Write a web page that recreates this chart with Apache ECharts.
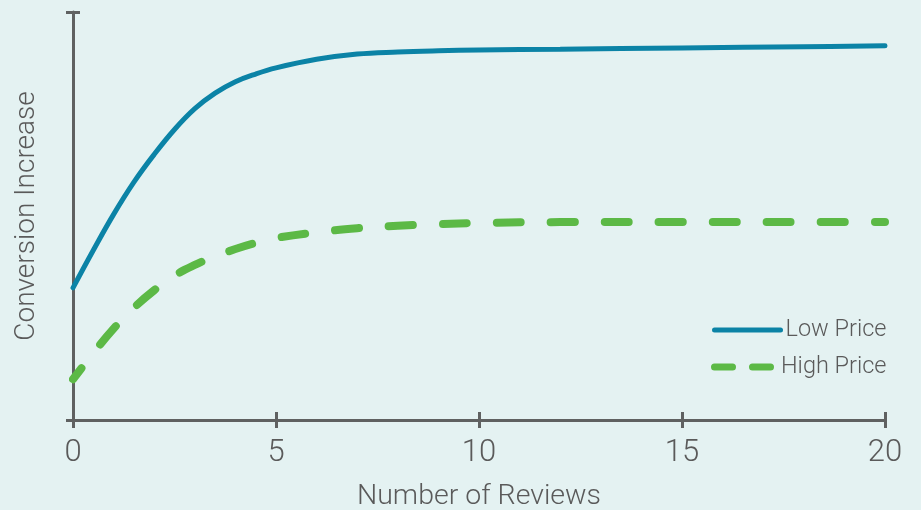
<!DOCTYPE html>
<html>
<head>
<meta charset="utf-8">
<script src="https://cdn.jsdelivr.net/npm/echarts@6/dist/echarts.min.js"></script>
<style>
html,body{margin:0;padding:0;background:#e4f2f2;overflow:hidden;}
#c{width:921px;height:510px;}
</style>
</head>
<body>
<div id="c"></div>
<script>
// Data (x = number of reviews, y = relative conversion increase)
const reviews     = [0, 0.5, 1, 1.5, 2, 2.5, 3, 3.5, 4, 4.5, 5, 6, 7, 8, 9, 10, 12, 15, 18, 20];
const lowPrice    = [32.4, 41.6, 50.4, 58.3, 65.1, 71.2, 76.3, 80.1, 82.9, 84.8, 86.3, 88.4, 89.7, 90.2, 90.5, 90.7, 90.9, 91.2, 91.5, 91.7];
const highPrice   = [10.0, 16.4, 22.4, 27.5, 31.8, 35.4, 38.0, 40.1, 41.9, 43.4, 44.6, 46.0, 47.0, 47.6, 48.0, 48.3, 48.5, 48.5, 48.5, 48.5];
const xTicks      = [0, 5, 10, 15, 20];
const seriesNames = ['Low Price', 'High Price'];

const axisColor = '#5f6161';
const textColor = '#5a5a5a';
const blue = '#0b83a6';
const green = '#5cb946';
const font = 'Roboto, "Noto Sans", sans-serif';

function pairs(xs, ys){ return xs.map((x,i)=>[x, ys[i]]); }

const chart = echarts.init(document.getElementById('c'), null, {renderer:'canvas', width:921, height:510});
const baseX = {
  type:'value', min:xTicks[0], max:xTicks[xTicks.length-1], interval:xTicks[1]-xTicks[0],
  position:'bottom', splitLine:{show:false}
};
const baseY = {type:'value', min:0, max:100, interval:100, position:'left', splitLine:{show:false}};
chart.setOption({
  backgroundColor:'#e4f2f2',
  animation:false,
  grid:{left:73, top:12, width:812, height:408, containLabel:false, outerBoundsMode:'none'},
  legend:{
    orient:'vertical', left:711, top:318, padding:0,
    itemWidth:66, itemHeight:20, itemGap:13,
    formatter: function(name){ return '{t|' + name + '}'; },
    textStyle:{
      fontFamily:font, fontSize:23.5, fontWeight:300, color:textColor,
      rich:{t:{fontFamily:font, fontSize:23.5, fontWeight:300, color:textColor, width:101, align:'right', lineHeight:20}}
    },
    data:[
      {name:seriesNames[0], itemStyle:{opacity:0}, lineStyle:{color:blue, width:5, cap:'round', dashOffset:0}},
      {name:seriesNames[1], itemStyle:{opacity:0}, lineStyle:{color:green, width:7, type:[18,20], dashOffset:0, cap:'round'}}
    ]
  },
  xAxis:[
    Object.assign({}, baseX, {
      name:'Number of Reviews', nameLocation:'middle', nameGap:62,
      nameTextStyle:{fontFamily:font, fontSize:28.5, fontWeight:300, color:textColor},
      axisLine:{show:true, lineStyle:{color:axisColor, width:3}},
      axisTick:{show:true, length:8, lineStyle:{color:axisColor, width:3}},
      axisLabel:{fontFamily:font, fontSize:31, fontWeight:300, color:textColor, margin:18}
    }),
    Object.assign({}, baseX, {
      axisLine:{show:false},
      axisTick:{show:true, inside:true, length:8, lineStyle:{color:axisColor, width:3}},
      axisLabel:{show:false}
    })
  ],
  yAxis:[
    Object.assign({}, baseY, {
      name:'Conversion Increase', nameLocation:'middle', nameGap:32,
      nameTextStyle:{fontFamily:font, fontSize:28, fontWeight:300, color:textColor},
      axisLine:{show:true, lineStyle:{color:axisColor, width:3}},
      axisTick:{show:true, length:7, lineStyle:{color:axisColor, width:3}},
      axisLabel:{show:false}
    }),
    Object.assign({}, baseY, {
      axisLine:{show:false},
      axisTick:{show:true, inside:true, length:7, lineStyle:{color:axisColor, width:3}},
      axisLabel:{show:false}
    })
  ],
  series:[
    {
      name:seriesNames[0], type:'line', data:pairs(reviews, lowPrice),
      smooth:0.4, symbol:'none', z:3,
      lineStyle:{color:blue, width:5, cap:'round'}, itemStyle:{color:blue}
    },
    {
      name:seriesNames[1], type:'line', data:pairs(reviews, highPrice),
      smooth:0.4, symbol:'none', z:2,
      lineStyle:{color:green, width:8, type:[24,30], dashOffset:10, cap:'round'}, itemStyle:{color:green}
    }
  ]
});
</script>
</body>
</html>
